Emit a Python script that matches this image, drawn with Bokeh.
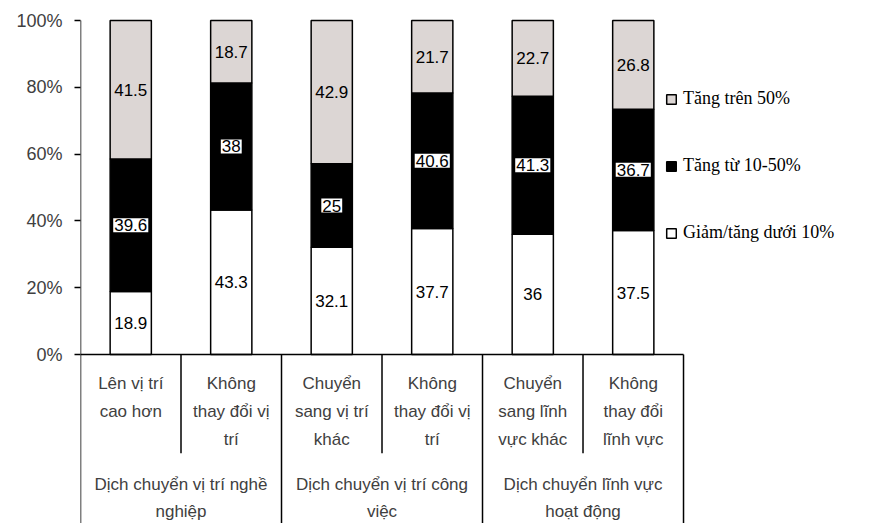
from bokeh.plotting import figure
from bokeh.models import Range1d, FixedTicker, ColumnDataSource, Legend, LegendItem
from bokeh.core.properties import value
from bokeh.embed import file_html
from bokeh.resources import INLINE

# ---- data ----
subcategories = [
    ["Lên vị trí", "cao hơn"],
    ["Không", "thay đổi vị", "trí"],
    ["Chuyển", "sang vị trí", "khác"],
    ["Không", "thay đổi vị", "trí"],
    ["Chuyển", "sang lĩnh", "vực khác"],
    ["Không", "thay đổi", "lĩnh vực"],
]
groups = [
    ["Dịch chuyển vị trí nghề", "nghiệp"],
    ["Dịch chuyển vị trí công", "việc"],
    ["Dịch chuyển lĩnh vực", "hoạt động"],
]
series_names = ["Giảm/tăng dưới 10%", "Tăng từ 10-50%", "Tăng trên 50%"]
low = [18.9, 43.3, 32.1, 37.7, 36, 37.5]
mid = [39.6, 38, 25, 40.6, 41.3, 36.7]
high = [41.5, 18.7, 42.9, 21.7, 22.7, 26.8]
low_labels = ["18.9", "43.3", "32.1", "37.7", "36", "37.5"]
mid_labels = ["39.6", "38", "25", "40.6", "41.3", "36.7"]
high_labels = ["41.5", "18.7", "42.9", "21.7", "22.7", "26.8"]
y_ticks = [0, 20, 40, 60, 80, 100]
y_tick_labels = ["0%", "20%", "40%", "60%", "80%", "100%"]

# ---- styles ----
colors = ["white", "black", "#dcd6d4"]
cat_color = "#404040"
n = len(low)
xs = [i + 0.5 for i in range(n)]

# 100% stacked: normalise each column to its total
tot = [l + m + h for l, m, h in zip(low, mid, high)]
low_n = [l / t * 100 for l, t in zip(low, tot)]
mid_n = [m / t * 100 for m, t in zip(mid, tot)]
high_n = [h / t * 100 for h, t in zip(high, tot)]

src = ColumnDataSource(dict(
    x=xs, low=low_n, mid=mid_n, high=high_n,
    y_low=[l / 2 for l in low_n],
    y_mid=[l + m / 2 for l, m in zip(low_n, mid_n)],
    y_high=[l + m + h / 2 for l, m, h in zip(low_n, mid_n, high_n)],
    lab_low=low_labels, lab_mid=mid_labels, lab_high=high_labels,
))

p = figure(width=880, height=523, x_range=Range1d(0, 7.96), y_range=Range1d(-50.6, 103),
           output_backend="svg", toolbar_location=None, x_axis_location=None,
           min_border_left=80, min_border_right=0, min_border_top=10, min_border_bottom=0,
           outline_line_color=None)
p.xgrid.visible = False
p.ygrid.visible = False

yax = p.yaxis[0]
yax.ticker = FixedTicker(ticks=y_ticks)
yax.major_label_overrides = {t: l for t, l in zip(y_ticks, y_tick_labels)}
yax.axis_line_color = None
yax.minor_tick_line_color = None
yax.major_tick_in = 0
yax.major_tick_out = 6
yax.major_tick_line_color = "black"
yax.major_tick_line_width = 1.5
yax.major_label_standoff = 12
yax.major_label_text_font = "Liberation Sans"
yax.major_label_text_font_size = "18px"
yax.major_label_text_color = cat_color

renderers = p.vbar_stack(["low", "mid", "high"], x="x", width=0.41, source=src,
                         fill_color=colors, line_color="black", line_width=1.5)

common = dict(source=src, text_align="center", text_baseline="middle",
              text_font=value("Liberation Sans"), text_font_size="17px", text_color="black")
p.text(x="x", y="y_low", text="lab_low", **common)
p.text(x="x", y="y_mid", text="lab_mid", background_fill_color="white", padding=1, **common)
p.text(x="x", y="y_high", text="lab_high", **common)

# ---- axis / category table lines ----
bottom = p.y_range.start
ng = len(groups)
per = n // ng
p.segment(x0=[0], y0=[100], x1=[0], y1=[bottom], line_color="black", line_width=1.5)
p.segment(x0=[0], y0=[0], x1=[n], y1=[0], line_color="black", line_width=1.5)
gb = [per * (g + 1) for g in range(ng)]
p.segment(x0=gb, y0=[0] * ng, x1=gb, y1=[bottom] * ng, line_color="black", line_width=1.5)
sb = [per * g + 1 for g in range(ng)]
p.segment(x0=sb, y0=[0] * ng, x1=sb, y1=[-29.6] * ng, line_color="black", line_width=1.5)

# subcategory labels
for i, lines in enumerate(subcategories):
    for j, t in enumerate(lines):
        p.text(x=[xs[i]], y=[0], text=[t], y_offset=29 + 28 * j, text_align="center",
               text_baseline="middle", text_font=value("Liberation Sans"),
               text_font_size="17px", text_color=cat_color)
# group labels
for g, lines in enumerate(groups):
    for j, t in enumerate(lines):
        p.text(x=[per * g + per / 2], y=[0], text=[t], y_offset=130 + 27 * j, text_align="center",
               text_baseline="middle", text_font=value("Liberation Sans"),
               text_font_size="17px", text_color=cat_color)

legend = Legend(items=[LegendItem(label=series_names[k], renderers=[renderers[k]]) for k in (2, 1, 0)],
                location=(585, 280), orientation="vertical",
                background_fill_alpha=0, border_line_color=None, padding=0, margin=0,
                glyph_width=12, glyph_height=12, label_height=12, spacing=46,
                label_standoff=6, label_text_font="Liberation Serif",
                label_text_font_size="18px", label_text_color="black")
p.add_layout(legend)

open("out.html", "w").write(file_html(p, INLINE))
